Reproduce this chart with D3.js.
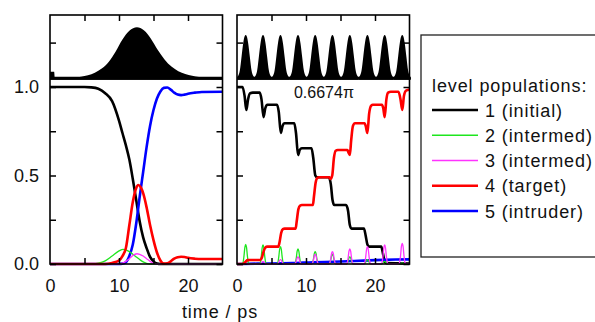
<!DOCTYPE html>
<html>
<head>
<meta charset="utf-8">
<script src="https://cdn.jsdelivr.net/npm/d3@7/dist/d3.min.js"></script>
<style>
  body { margin: 0; background: #fff; }
  text { font-family: "Liberation Sans", Arial, sans-serif; fill: #111; }
</style>
</head>
<body>
<svg id="chart" width="595" height="322"></svg>
<script>
// ---- data ----
// time axis
const timeTicks = [0, 10, 20];
const timeMinorTicks = [5, 10, 15, 20];
const popTicks = [0, 0.25, 0.5, 0.75, 1];
const popLabels = [0, 0.5, 1];

// left panel: single chirped pulse envelope [t, amp]
const leftPulse = [[0,0.13],[0.6,0.13],[0.7,0],[2.5,0],[3.5,0.012],[4.5,0.03],[5.5,0.06],[6.5,0.11],[7.5,0.19],
  [8.5,0.32],[9.5,0.52],[10.5,0.76],[11.5,0.93],[12.6,1.0],[13.6,0.94],[14.6,0.78],[15.6,0.56],[16.6,0.37],
  [17.6,0.23],[18.6,0.14],[19.6,0.085],[20.6,0.05],[21.6,0.027],[22.6,0.012],[23.6,0.004],[24.5,0],[25,0]];

// left panel populations [t, p]
const leftInitial = [[0,1],[5,1],[6,0.998],[7,0.99],[8,0.965],[9,0.92],[10,0.81],[10.5,0.74],[11,0.67],
  [11.5,0.59],[12,0.48],[12.5,0.36],[13,0.24],[13.5,0.15],[14,0.09],[14.5,0.04],[15,0.015],[15.5,0.003],[16,0],[25,0]];
const leftInter2 = [[0,0],[6,0],[7,0.005],[8,0.018],[9,0.045],[10,0.074],[10.6,0.083],[11,0.08],[11.5,0.07],
  [12,0.055],[12.5,0.04],[13,0.025],[13.5,0.012],[14,0.004],[14.5,0],[25,0]];
const leftInter3 = [[0,0],[10,0],[10.5,0.005],[11,0.015],[11.5,0.03],[12,0.048],[12.6,0.058],[13,0.055],
  [13.5,0.045],[14,0.03],[14.5,0.015],[15,0.005],[15.5,0],[25,0]];
const leftTarget = [[0,0],[8,0],[9,0.006],[10,0.02],[10.5,0.045],[11,0.09],[11.5,0.22],[12,0.35],[12.5,0.43],
  [12.8,0.446],[13.2,0.43],[13.5,0.4],[14,0.32],[14.5,0.22],[15,0.135],[15.5,0.065],[16,0.02],[16.5,0.002],
  [17,0.004],[17.5,0.015],[18,0.03],[18.5,0.038],[19,0.041],[19.5,0.04],[20,0.035],[21,0.03],[22,0.028],[25,0.028]];
const leftIntruder = [[0,0],[10,0],[10.5,0.002],[11,0.01],[11.5,0.045],[12,0.11],[12.5,0.23],[13,0.38],[13.5,0.52],
  [14,0.66],[14.5,0.78],[15,0.87],[15.5,0.935],[16,0.975],[16.5,0.995],[17,0.997],[17.5,0.985],[18,0.968],
  [18.5,0.957],[19,0.954],[19.5,0.957],[20,0.962],[21,0.968],[22,0.972],[25,0.973]];

// right panel: pulse train
const trainCenters = [1.26, 3.77, 6.3, 8.84, 11.33, 13.83, 16.35, 18.9, 21.4, 23.95];
const trainPeak = 0.85;
const trainProfile = [[-1.26,0.02],[-1.05,0.07],[-0.85,0.18],[-0.6,0.5],[-0.35,0.82],[-0.15,0.97],[0,1],
  [0.15,0.97],[0.35,0.82],[0.6,0.5],[0.85,0.18],[1.05,0.07],[1.26,0.02]];
const phaseLabel = "0.6674\u03c0";

// right panel populations
const rightInitial = [[0,1],[0.8,1],[1.1,0.95],[1.35,0.87],[1.6,0.93],[1.9,0.965],[2.3,0.968],[3.3,0.968],
  [3.55,0.93],[3.85,0.83],[4.1,0.88],[4.4,0.9],[5.8,0.9],
  [6.05,0.86],[6.35,0.74],[6.6,0.78],[6.9,0.795],[8.3,0.795],
  [8.55,0.74],[8.85,0.616],[9.1,0.645],[9.4,0.654],[10.8,0.654],
  [11.05,0.6],[11.35,0.5],[11.6,0.49],[13.3,0.49],
  [13.6,0.45],[13.85,0.36],[14.1,0.333],[15.8,0.333],
  [16.1,0.3],[16.35,0.22],[16.6,0.2],[18.4,0.2],
  [18.65,0.16],[18.9,0.11],[19.15,0.098],[20.9,0.098],
  [21.15,0.06],[21.4,0.015],[21.65,0.005],[25,0.003]];
const rightTarget = [[0,0],[0.8,0],[1.05,0.005],[1.3,0.015],[1.55,0.022],[1.9,0.023],[3.4,0.023],
  [3.6,0.035],[3.85,0.07],[4.1,0.092],[4.4,0.098],[6.0,0.098],
  [6.15,0.12],[6.4,0.175],[6.65,0.197],[6.9,0.2],[8.5,0.2],
  [8.65,0.24],[8.9,0.31],[9.15,0.33],[9.4,0.333],[11.0,0.333],
  [11.15,0.38],[11.4,0.46],[11.65,0.487],[11.9,0.49],[13.4,0.49],
  [13.55,0.48],[13.8,0.5],[14.05,0.6],[14.3,0.64],[14.6,0.644],[16.0,0.644],
  [16.15,0.63],[16.35,0.616],[16.55,0.7],[16.8,0.78],[17.1,0.795],[18.5,0.795],
  [18.65,0.78],[18.9,0.74],[19.15,0.85],[19.45,0.895],[19.7,0.9],[21.0,0.9],
  [21.2,0.88],[21.4,0.83],[21.65,0.93],[21.9,0.968],[22.3,0.973],[23.4,0.973],
  [23.7,0.93],[23.95,0.87],[24.2,0.95],[24.5,0.98],[25,0.985]];
const rightIntruder = [[0,0],[3,0.002],[8,0.005],[11,0.01],[14,0.013],[17,0.017],[20,0.022],[23,0.025],[25,0.026]];
const spikeHeights2 = [0.111, 0.108, 0.098, 0.085, 0.07, 0.055, 0.04, 0.025, 0.015, 0.005];
const spikeHeights3 = [0.005, 0.015, 0.025, 0.04, 0.056, 0.07, 0.085, 0.098, 0.108, 0.117];
const spikeProfile = [[-0.6,0],[-0.4,0.06],[-0.25,0.4],[-0.12,0.85],[0,1],[0.12,0.85],[0.25,0.4],[0.4,0.06],[0.6,0]];

// legend
const legendTitle = "level populations:";
const legendLabels = ["1 (initial)", "2 (intermed)", "3 (intermed)", "4 (target)", "5 (intruder)"];
const levelColors = ["#000000", "#1ee61e", "#ff33ff", "#ff0000", "#0000ff"];
const levelWidths = [2.6, 1.3, 1.3, 2.6, 2.6];

// ---- layout ----
const svg = d3.select('#chart');
const frameTop = 15, frameBottom = 264, panelW = 172.5;
const yPop = d3.scaleLinear().domain([0, 1]).range([264, 87]);
const yPulse = d3.scaleLinear().domain([0, 1]).range([78.3, 27.3]);

const panels = [
  { x0: 50, pulse: leftPulse, series: [leftInitial, leftInter2, leftInter3, leftTarget, leftIntruder], labels: true },
  { x0: 237, pulse: null, series: null, labels: false }
];

// spike series built from read heights
function spikeSeries(heights) {
  let pts = [[0, 0]];
  trainCenters.forEach((c, i) => {
    spikeProfile.forEach(p => pts.push([c + p[0], heights[i] * p[1]]));
  });
  pts.push([25, 0]);
  return pts;
}
panels[1].series = [rightInitial, spikeSeries(spikeHeights2), spikeSeries(spikeHeights3), rightTarget, rightIntruder];

const drawOrder = [0, 4, 1, 2, 3];

panels.forEach((pn, pi) => {
  const x = d3.scaleLinear().domain([0, 25]).range([pn.x0, pn.x0 + panelW]);
  const g = svg.append('g');

  // pulse inset
  const area = d3.area().x(d => x(d[0])).y0(yPulse(0) + 1.5).y1(d => yPulse(d[1])).curve(d3.curveMonotoneX);
  if (pn.pulse) {
    g.append('path').datum(pn.pulse).attr('d', area).attr('fill', '#000');
  } else {
    trainCenters.forEach(c => {
      const pts = trainProfile.map(p => [c + p[0], trainPeak * p[1]]);
      g.append('path').datum(pts).attr('d', area).attr('fill', '#000');
    });
  }
  g.append('line')
    .attr('x1', x(0)).attr('x2', x(25))
    .attr('y1', yPulse(0)).attr('y2', yPulse(0))
    .attr('stroke', '#000').attr('stroke-width', 3);

  // populations
  const line = d3.line().x(d => x(d[0])).y(d => yPop(d[1])).curve(d3.curveMonotoneX);
  drawOrder.forEach(k => {
    g.append('path').datum(pn.series[k]).attr('d', line)
      .attr('fill', 'none')
      .attr('stroke', levelColors[k])
      .attr('stroke-width', levelWidths[k])
      .attr('stroke-linejoin', 'round');
  });

  // axes
  const bottom = g.append('g').attr('transform', `translate(0,${frameBottom})`)
    .call(d3.axisBottom(x).tickValues(timeTicks).tickSize(0).tickPadding(15).tickFormat(d3.format('d')));
  const bottomMinor = g.append('g').attr('transform', `translate(0,${frameBottom})`)
    .call(d3.axisBottom(x).tickValues(timeMinorTicks).tickSizeInner(-6).tickSizeOuter(0).tickFormat(''));
  const top = g.append('g').attr('transform', `translate(0,${frameTop})`)
    .call(d3.axisTop(x).tickValues(timeMinorTicks).tickSizeInner(-6).tickSizeOuter(0).tickFormat(''));
  const left = g.append('g').attr('transform', `translate(${x(0)},0)`)
    .call(d3.axisLeft(yPop).tickValues(popTicks).tickSizeInner(-6).tickSizeOuter(0).tickPadding(11)
      .tickFormat(d => (pn.labels && popLabels.includes(d)) ? d3.format('.1f')(d) : ''));
  const right = g.append('g').attr('transform', `translate(${x(25)},0)`)
    .call(d3.axisRight(yPop).tickValues(popTicks).tickSizeInner(-6).tickSizeOuter(0).tickFormat(''));
  const insetL = g.append('g').attr('transform', `translate(${x(0)},0)`)
    .call(d3.axisLeft(yPulse).tickValues([0.7]).tickSizeInner(-6).tickSizeOuter(0).tickFormat(''));
  const insetR = g.append('g').attr('transform', `translate(${x(25)},0)`)
    .call(d3.axisRight(yPulse).tickValues([0.7]).tickSizeInner(-6).tickSizeOuter(0).tickFormat(''));

  [bottom, bottomMinor, top, left, right, insetL, insetR].forEach(a => {
    a.selectAll('.domain').remove();
    a.selectAll('.tick line').attr('stroke', '#000').attr('stroke-width', 1.5);
    a.selectAll('text').style('font-size', '18px').attr('fill', '#111');
  });

  // frame
  g.append('rect')
    .attr('x', x(0)).attr('y', frameTop)
    .attr('width', panelW).attr('height', frameBottom - frameTop)
    .attr('fill', 'none').attr('stroke', '#000').attr('stroke-width', 1.6);

  if (pi === 1) {
    g.append('text').attr('x', x(12.6)).attr('y', 98)
      .attr('text-anchor', 'middle').style('font-size', '16px').text(phaseLabel);
  }
});

// x title
svg.append('text').attr('x', 220).attr('y', 318)
  .attr('text-anchor', 'middle').style('font-size', '18px').style('letter-spacing', '0.9px')
  .text('time / ps');

// legend
const lg = svg.append('g');
lg.append('rect').attr('x', 421).attr('y', 35).attr('width', 200).attr('height', 222)
  .attr('fill', '#fff').attr('stroke', '#222').attr('stroke-width', 1.3);
lg.append('text').attr('x', 432).attr('y', 92).style('font-size', '18px').style('letter-spacing', '0.9px')
  .text(legendTitle);
const legendY = d3.scalePoint().domain(d3.range(legendLabels.length)).range([110, 211]);
legendLabels.forEach((lab, i) => {
  lg.append('line').attr('x1', 432).attr('x2', 478)
    .attr('y1', legendY(i)).attr('y2', legendY(i))
    .attr('stroke', levelColors[i]).attr('stroke-width', levelWidths[i]);
  lg.append('text').attr('x', 485).attr('y', legendY(i) + 6.5)
    .style('font-size', '18px').style('letter-spacing', '0.9px').text(lab);
});
</script>
</body>
</html>
